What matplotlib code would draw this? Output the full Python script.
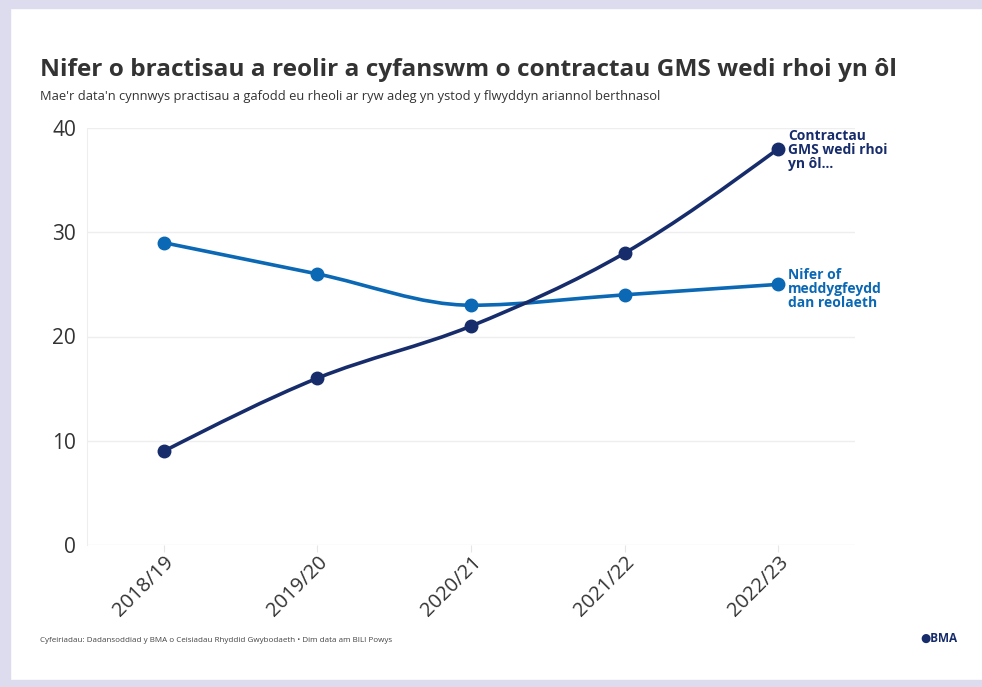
import numpy as np
import matplotlib
matplotlib.use("Agg")
import matplotlib.pyplot as plt
from matplotlib.path import Path
from matplotlib.patches import PathPatch, Rectangle

years = ["2018/19", "2019/20", "2020/21", "2021/22", "2022/23"]
contracts_returned = [9, 16, 21, 28, 38]
practices_managed = [29, 26, 23, 24, 25]

navy = "#172c6b"
blue = "#0a68b4"
txt = "#333333"

plt.rcParams["font.family"] = ["Open Sans", "DejaVu Sans"]


def monotone_path(xs, ys):
    # d3 curveMonotoneX as bezier segments
    xs = np.asarray(xs, float)
    ys = np.asarray(ys, float)
    n = len(xs)
    h = np.diff(xs)
    s = np.diff(ys) / h
    t = np.zeros(n)
    for i in range(1, n - 1):
        p = (s[i - 1] * h[i] + s[i] * h[i - 1]) / (h[i - 1] + h[i])
        t[i] = (np.sign(s[i - 1]) + np.sign(s[i])) * min(abs(s[i - 1]), abs(s[i]), 0.5 * abs(p))
    t[0] = (3 * s[0] - t[1]) / 2
    t[-1] = (3 * s[-1] - t[-2]) / 2
    verts = [(xs[0], ys[0])]
    codes = [Path.MOVETO]
    for i in range(n - 1):
        d = h[i] / 3
        verts += [(xs[i] + d, ys[i] + d * t[i]), (xs[i + 1] - d, ys[i + 1] - d * t[i + 1]), (xs[i + 1], ys[i + 1])]
        codes += [Path.CURVE4] * 3
    return Path(verts, codes)


fig = plt.figure(figsize=(9.82, 6.87), dpi=100)
fig.patch.set_facecolor("white")

# lavender frame
border = "#dddcef"
fig.patches.append(Rectangle((0, 0), 1, 7 / 687, transform=fig.transFigure, color=border, zorder=0))
fig.patches.append(Rectangle((0, 1 - 8 / 687), 1, 8 / 687, transform=fig.transFigure, color=border, zorder=0))
fig.patches.append(Rectangle((0, 0), 10 / 982, 1, transform=fig.transFigure, color=border, zorder=0))

ax = fig.add_axes([87 / 982, 1 - 545 / 687, 768 / 982, 417 / 687])
x = np.arange(len(years))

for vals, col in [(practices_managed, blue), (contracts_returned, navy)]:
    ax.add_patch(PathPatch(monotone_path(x, vals), fill=False, edgecolor=col, lw=2.6, zorder=3, capstyle="round"))
    ax.plot(x, vals, "o", color=col, ms=9, zorder=4)

ax.set_xlim(-0.5, 4.5)
ax.set_ylim(0, 40)
ax.set_yticks([0, 10, 20, 30, 40])
ax.set_xticks(x)
ax.set_xticklabels(years, rotation=45, ha="right", rotation_mode="anchor")
ax.grid(axis="y", color="#eeeeee", lw=1)
ax.set_axisbelow(True)
for sp in ["top", "right", "bottom"]:
    ax.spines[sp].set_visible(False)
ax.spines["left"].set_color("#eeeeee")
ax.tick_params(axis="y", length=0, pad=8, labelsize=15, labelcolor=txt)
ax.tick_params(axis="x", length=5, color="#e6e6e6", pad=0, labelsize=14.5, labelcolor=txt)

# end labels
ax.text(4.065, 39.9, "Contractau\nGMS wedi rhoi\nyn ôl...", color=navy, fontsize=10, fontweight="bold",
        va="top", ha="left", linespacing=1.0, clip_on=False)
ax.text(4.065, 26.6, "Nifer of\nmeddygfeydd\ndan reolaeth", color=blue, fontsize=10, fontweight="bold",
        va="top", ha="left", linespacing=1.0)

fig.text(40 / 982, 1 - 76 / 687, "Nifer o bractisau a reolir a cyfanswm o contractau GMS wedi rhoi yn ôl",
         fontsize=17.6, fontweight="bold", color=txt)
fig.text(40 / 982, 1 - 100 / 687,
         "Mae'r data'n cynnwys practisau a gafodd eu rheoli ar ryw adeg yn ystod y flwyddyn ariannol berthnasol",
         fontsize=9.3, color=txt)
fig.text(40 / 982, 1 - 642 / 687,
         "Cyfeiriadau: Dadansoddiad y BMA o Ceisiadau Rhyddid Gwybodaeth \u2022 Dim data am BILI Powys",
         fontsize=5.8, color="#444444")
fig.text(957 / 982, 1 - 642 / 687, "\u25cfBMA", fontsize=8.5, fontweight="bold", color=navy, ha="right")

fig.savefig("out.png", dpi=100)
